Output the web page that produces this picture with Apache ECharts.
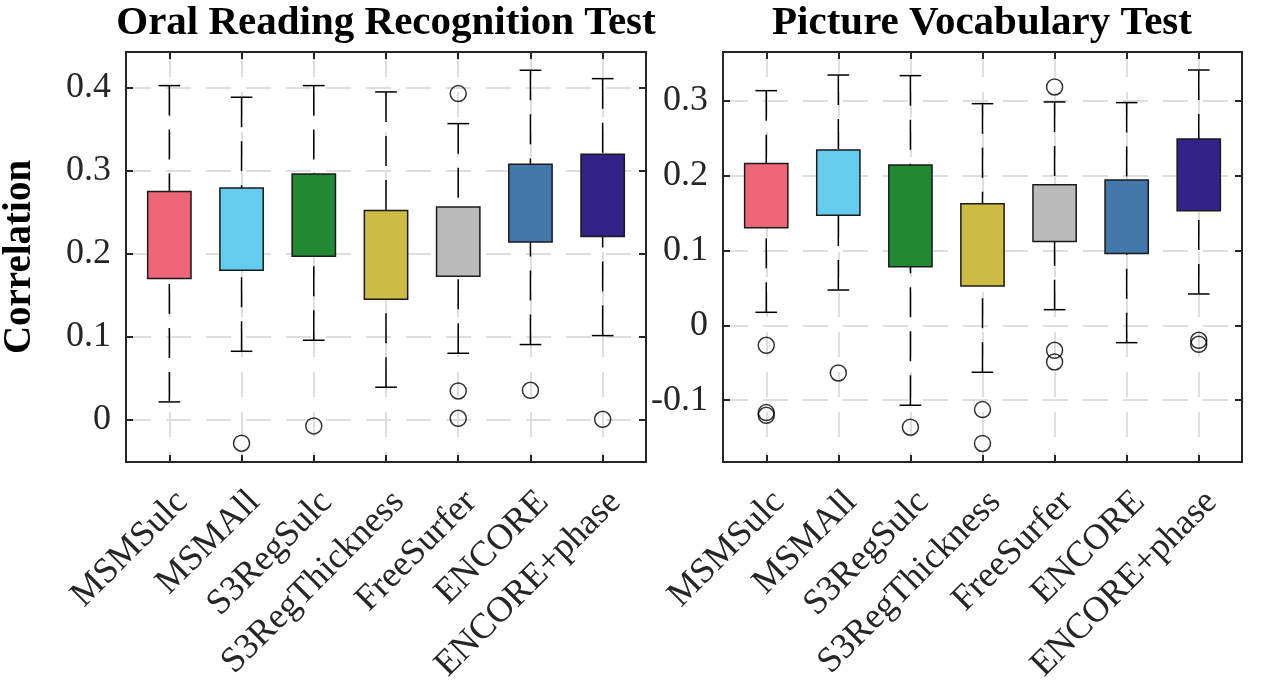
<!DOCTYPE html>
<html>
<head>
<meta charset="utf-8">
<script src="https://cdn.jsdelivr.net/npm/echarts@6/dist/echarts.min.js"></script>
<style>
html,body{margin:0;padding:0;background:#fff;}
#chart{width:1262px;height:684px;}
</style>
</head>
<body>
<div id="chart"></div>
<script>
const categories = ['MSMSulc','MSMAll','S3RegSulc','S3RegThickness','FreeSurfer','ENCORE','ENCORE+phase'];
const boxColors = ['#EE6677','#66CCEE','#228833','#CCBB44','#BBBBBB','#4477AA','#332288'];

// Oral Reading Recognition Test
const oralLowerWhisker = [0.0213, 0.0823, 0.0956, 0.0390, 0.0799, 0.0904, 0.1012];
const oralQ1           = [0.1700, 0.1800, 0.1968, 0.1450, 0.1727, 0.2141, 0.2205];
const oralQ3           = [0.2747, 0.2791, 0.2960, 0.2518, 0.2562, 0.3076, 0.3197];
const oralUpperWhisker = [0.4024, 0.3884, 0.4024, 0.3948, 0.3566, 0.4209, 0.4108];
const oralOutliers = [[2,-0.0285],[3,-0.0076],[5,0.3928],[5,0.0345],[5,0.0016],[6,0.0353],[7,0.0004]];

// Picture Vocabulary Test
const picLowerWhisker = [0.0174, 0.0472, -0.1069, -0.0628, 0.0209, -0.0232, 0.0419];
const picQ1           = [0.1303, 0.1472, 0.0784, 0.0526, 0.1120, 0.0960, 0.1533];
const picQ3           = [0.2163, 0.2345, 0.2145, 0.1624, 0.1880, 0.1944, 0.2492];
const picUpperWhisker = [0.3138, 0.3347, 0.3339, 0.2964, 0.2987, 0.2978, 0.3414];
const picOutliers = [[1,-0.0267],[1,-0.1167],[1,-0.1203],[2,-0.0637],[3,-0.1363],[4,-0.1127],[4,-0.158],[5,0.3187],[5,-0.0334],[5,-0.049],[7,-0.020],[7,-0.0254]];

const oralTicks = [0, 0.1, 0.2, 0.3, 0.4];
const picTicks = [-0.1, 0, 0.1, 0.2, 0.3];
const xTicks = [1,2,3,4,5,6,7];

const FONT = '"Liberation Serif", "Times New Roman", serif';
const AX = '#262626';

function boxData(lo, q1, q3, hi) {
  return categories.map((c, i) => [i + 1, lo[i], q1[i], q3[i], hi[i]]);
}

function renderBox(params, api) {
  const x = api.value(0), lo = api.value(1), q1 = api.value(2), q3 = api.value(3), hi = api.value(4);
  const pLo = api.coord([x, lo]), pQ1 = api.coord([x, q1]), pQ3 = api.coord([x, q3]), pHi = api.coord([x, hi]);
  const halfBox = api.size([0.3, 0])[0];
  const halfCap = api.size([0.15, 0])[0];
  const cx = pLo[0];
  const wStyle = {stroke: '#000', lineWidth: 1.5, lineDash: [30, 14], fill: null};
  const cStyle = {stroke: '#000', lineWidth: 1.5, fill: null};
  return {
    type: 'group',
    children: [
      {type: 'line', shape: {x1: cx, y1: pHi[1], x2: cx, y2: pQ3[1]}, style: wStyle},
      {type: 'line', shape: {x1: cx, y1: pLo[1], x2: cx, y2: pQ1[1]}, style: wStyle},
      {type: 'line', shape: {x1: cx - halfCap, y1: pHi[1], x2: cx + halfCap, y2: pHi[1]}, style: cStyle},
      {type: 'line', shape: {x1: cx - halfCap, y1: pLo[1], x2: cx + halfCap, y2: pLo[1]}, style: cStyle},
      {type: 'rect', shape: {x: cx - halfBox, y: pQ3[1], width: 2 * halfBox, height: pQ1[1] - pQ3[1]},
        style: {fill: boxColors[params.dataIndex], stroke: '#1a1a1a', lineWidth: 1.5}}
    ]
  };
}

function fmt(v) { return v === 0 ? '0' : String(Math.round(v * 10) / 10); }

function xAxes(gi) {
  return [
    {type: 'value', gridIndex: gi, min: 0.4, max: 7.6, position: 'bottom',
      axisLine: {show: true, onZero: false, lineStyle: {color: AX, width: 2}},
      axisTick: {show: true, inside: true, length: 7, customValues: xTicks, lineStyle: {color: AX, width: 2}},
      axisLabel: {show: true, customValues: xTicks, rotate: 45, margin: 22, verticalAlign: 'top',
        formatter: v => categories[Math.round(v) - 1] || '',
        fontFamily: FONT, fontSize: 36, color: AX},
      splitLine: {show: true, lineStyle: {color: '#dedede', width: 2, type: [25, 15]}}},
    {type: 'value', gridIndex: gi, min: 0.4, max: 7.6, position: 'top',
      axisLine: {show: true, onZero: false, lineStyle: {color: AX, width: 2}},
      axisTick: {show: true, inside: true, length: 7, customValues: xTicks, lineStyle: {color: AX, width: 2}},
      axisLabel: {show: false}, splitLine: {show: false}}
  ];
}

function yAxes(gi, min, max, ticks, name) {
  return [
    {type: 'value', gridIndex: gi, min: min, max: max, position: 'left',
      name: name || '', nameLocation: 'middle', nameGap: 87, nameRotate: 90,
      nameTextStyle: {fontFamily: FONT, fontSize: 39, fontWeight: 'bold', color: '#000'},
      axisLine: {show: true, onZero: false, lineStyle: {color: AX, width: 2}},
      axisTick: {show: true, inside: true, length: 7, customValues: ticks, lineStyle: {color: AX, width: 2}},
      axisLabel: {show: true, customValues: ticks, formatter: fmt, margin: 15,
        fontFamily: FONT, fontSize: 36, color: AX},
      splitLine: {show: true, lineStyle: {color: '#dedede', width: 2, type: [25, 15]}}},
    {type: 'value', gridIndex: gi, min: min, max: max, position: 'right',
      axisLine: {show: true, onZero: false, lineStyle: {color: AX, width: 2}},
      axisTick: {show: true, inside: true, length: 7, customValues: ticks, lineStyle: {color: AX, width: 2}},
      axisLabel: {show: false}, splitLine: {show: false}}
  ];
}

const chart = echarts.init(document.getElementById('chart'), null, {renderer: 'canvas'});
chart.setOption({
  animation: false,
  backgroundColor: '#fff',
  grid: [
    {left: 126, top: 52, width: 520, height: 410, containLabel: false, outerBoundsMode: 'none'},
    {left: 723, top: 52, width: 519, height: 410, containLabel: false, outerBoundsMode: 'none'}
  ],
  graphic: [
    {type: 'text', x: 386, y: 23, style: {text: 'Oral Reading Recognition Test', textAlign: 'center', textVerticalAlign: 'middle',
      font: 'bold 41px "Liberation Serif", serif', fill: '#000'}},
    {type: 'text', x: 982, y: 23, style: {text: 'Picture Vocabulary Test', textAlign: 'center', textVerticalAlign: 'middle',
      font: 'bold 41px "Liberation Serif", serif', fill: '#000'}}
  ],
  xAxis: [...xAxes(0), ...xAxes(1)],
  yAxis: [...yAxes(0, -0.0511, 0.4429, oralTicks, 'Correlation'), ...yAxes(1, -0.1828, 0.3655, picTicks, '')],
  series: [
    {type: 'custom', xAxisIndex: 0, yAxisIndex: 0, renderItem: renderBox,
      data: boxData(oralLowerWhisker, oralQ1, oralQ3, oralUpperWhisker), encode: {x: 0, y: [1, 2, 3, 4]}, z: 3},
    {type: 'scatter', xAxisIndex: 0, yAxisIndex: 0, data: oralOutliers, symbol: 'circle', symbolSize: 16,
      itemStyle: {color: 'rgba(0,0,0,0)', borderColor: '#000', borderWidth: 1.5}, z: 4},
    {type: 'custom', xAxisIndex: 2, yAxisIndex: 2, renderItem: renderBox,
      data: boxData(picLowerWhisker, picQ1, picQ3, picUpperWhisker), encode: {x: 0, y: [1, 2, 3, 4]}, z: 3},
    {type: 'scatter', xAxisIndex: 2, yAxisIndex: 2, data: picOutliers, symbol: 'circle', symbolSize: 16,
      itemStyle: {color: 'rgba(0,0,0,0)', borderColor: '#000', borderWidth: 1.5}, z: 4}
  ]
});
</script>
</body>
</html>
